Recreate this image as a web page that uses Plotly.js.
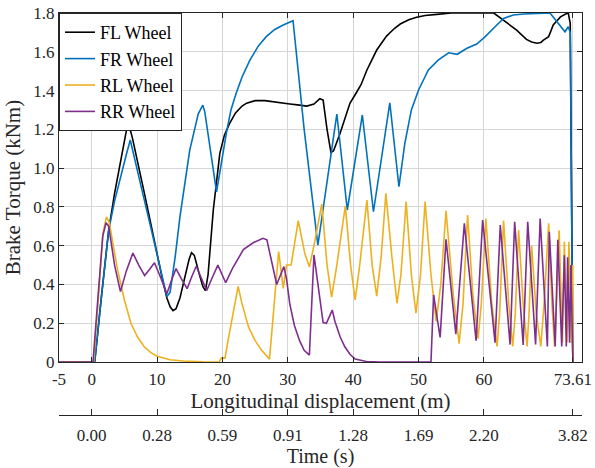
<!DOCTYPE html>
<html>
<head>
<meta charset="utf-8">
<script src="https://cdn.plot.ly/plotly-3.0.1.min.js"></script>
<style>html,body{margin:0;padding:0;background:#fff;}#chart{width:595px;height:468px;}</style>
</head>
<body>
<div id="chart"></div>
<script>
// Longitudinal displacement (m) and brake torque (kNm)
const flX = [-5,0.46,1.5,2.6,3.5,4.5,5.2,5.56,6.2,7.0,8.0,9.0,10.0,10.8,11.5,12.0,12.45,12.9,13.5,14.3,14.9,15.27,15.7,16.4,17.0,17.4,17.8,18.6,19.6,20.3,21.1,22.0,23.0,23.7,25.0,26.5,28.0,30.3,31.5,32.9,34.0,34.9,35.4,36.0,36.6,37.0,38.0,39.5,40.5,41.2,42.1,43.6,45.1,46.3,47.2,48.5,49.7,51.0,52.8,55.0,61.5,63.0,65.0,66.5,67.3,68.1,68.7,69.1,69.9,70.6,71.7,72.5,72.9,73.2,73.6];
const flY = [0,0,0.34,0.68,0.87,1.05,1.17,1.239,1.16,1.04,0.88,0.72,0.55,0.43,0.33,0.285,0.265,0.275,0.33,0.44,0.53,0.564,0.55,0.46,0.39,0.368,0.45,0.784,1.076,1.17,1.231,1.285,1.32,1.335,1.348,1.348,1.34,1.331,1.326,1.32,1.33,1.358,1.351,1.2,1.08,1.09,1.18,1.334,1.39,1.43,1.506,1.609,1.681,1.72,1.743,1.765,1.778,1.787,1.793,1.8,1.8,1.764,1.712,1.664,1.65,1.644,1.648,1.66,1.678,1.738,1.78,1.795,1.8,1.747,0];

const frX = [-5,0.46,1.5,2.6,3.5,4.5,5.3,5.9,6.3,7.7,9.0,10.0,10.8,11.5,12.0,12.8,13.5,15.0,16.3,17.0,17.3,19.1,20.6,21.3,22.1,23.0,24.2,25.5,26.7,28.0,29.3,30.8,32.5,34.6,37.5,39.1,41.4,43.1,45.6,47.0,47.9,48.9,50.0,51.5,53.0,54.6,55.9,57.4,58.9,60.2,61.7,63.0,64.5,66.1,70.1,71.4,72.4,72.9,73.2,73.6];
const frY = [0,0,0.34,0.68,0.83,0.97,1.07,1.145,1.09,0.885,0.7,0.56,0.44,0.337,0.36,0.55,0.749,1.093,1.28,1.325,1.29,0.878,1.18,1.3,1.386,1.47,1.557,1.63,1.678,1.715,1.738,1.76,1.2,0.603,1.279,0.784,1.274,0.775,1.337,0.904,1.128,1.3,1.403,1.506,1.557,1.595,1.587,1.618,1.64,1.678,1.729,1.772,1.79,1.795,1.8,1.747,1.703,1.729,1.7,0];

const rlX = [-5,0.3,1.0,1.7,2.25,2.7,3.3,4.0,5.0,6.0,7.0,8.0,9.0,10.0,12.0,14.0,17.0,19.5,19.8,20.4,20.8,22.4,23.0,24.0,25.0,26.0,27.2,28.6,29.3,29.8,30.5,31.6,32.6,33.3,34.0,35.2,36.0,36.7,37.5,38.8,39.6,40.3,41.0,42.1,42.9,43.6,44.3,45.0,45.9,46.7,47.3,48.1,48.9,49.6,50.3,51.0,51.9,52.7,53.4,54.2,55.3,56.2,56.8,57.5,58.3,59.1,59.6,60.3,61.2,62.0,62.4,63.0,63.8,64.4,64.8,65.3,66.0,66.6,66.9,67.3,68.0,68.7,69.2,69.9,70.4,70.8,71.1,71.5,72.0,72.3,72.7,73.0,73.4,73.6,73.61];
const rlY = [0,0,0.32,0.66,0.749,0.72,0.6,0.47,0.32,0.2,0.13,0.08,0.05,0.03,0.012,0.005,0.001,0,0.02,0.02,0.1,0.39,0.3,0.18,0.11,0.06,0.015,0.57,0.38,0.5,0.5,0.729,0.56,0.49,0.6,0.815,0.5,0.335,0.5,0.805,0.5,0.32,0.5,0.835,0.5,0.34,0.55,0.87,0.55,0.303,0.45,0.827,0.45,0.252,0.45,0.827,0.45,0.21,0.4,0.78,0.35,0.095,0.3,0.758,0.35,0.12,0.3,0.74,0.3,0.08,0.25,0.73,0.3,0.08,0.25,0.68,0.3,0.08,0.25,0.6,0.25,0.08,0.3,0.715,0.3,0.08,0.3,0.68,0.1,0.62,0.1,0.62,0.1,0.5,0];

const rrX = [-5,0.2,1.0,1.7,2.2,2.6,3.5,4.4,5.3,6.3,7.2,8.1,8.9,9.6,10.5,11.5,12.3,12.9,13.7,14.6,15.3,16.0,16.8,17.6,18.5,19.3,20.5,21.5,23.2,24.7,26.2,26.8,28.3,29.4,29.8,30.3,31.0,31.8,32.5,33.3,34.0,35.4,35.9,36.8,37.2,38.0,38.7,39.5,40.3,42.0,44.0,51.9,52.3,53.3,54.2,55.7,57.0,58.8,59.8,61.7,62.5,64.0,64.7,66.0,66.7,67.9,68.6,69.7,70.0,70.9,71.3,71.9,72.3,72.6,72.8,73.1,73.3,73.55,73.61];
const rrY = [0,0,0.35,0.65,0.718,0.7,0.5,0.363,0.47,0.562,0.5,0.446,0.48,0.512,0.44,0.352,0.43,0.482,0.43,0.378,0.44,0.494,0.43,0.369,0.44,0.5,0.409,0.48,0.58,0.615,0.638,0.63,0.4,0.492,0.43,0.3,0.19,0.11,0.06,0.036,0.552,0.203,0.2,0.268,0.21,0.13,0.08,0.04,0.015,0.003,0,0,0.346,0.127,0.633,0.144,0.715,0.11,0.732,0.1,0.706,0.09,0.723,0.088,0.723,0.09,0.74,0.08,0.672,0.08,0.63,0.08,0.55,0.08,0.54,0.1,0.5,0.03,0];

const seriesNames = ['FL Wheel','FR Wheel','RL Wheel','RR Wheel'];
const seriesColors = ['#000000','#0072BD','#EDB120','#7E2F8E'];

// Axis ticks
const distTicks = [-5,0,10,20,30,40,50,60,73.61];
const distTickText = ['-5','0','10','20','30','40','50','60','73.61'];
const timeTicks = [-5,0,10,20,30,40,50,60,73.61,75];
const timeTickText = ['','0.00','0.28','0.59','0.91','1.28','1.69','2.20','3.82',''];
const torqueTicks = [0,0.2,0.4,0.6,0.8,1.0,1.2,1.4,1.6,1.8];
const torqueTickText = ['0','0.2','0.4','0.6','0.8','1.0','1.2','1.4','1.6','1.8'];

const xs = [flX, frX, rlX, rrX];
const ys = [flY, frY, rlY, rrY];
const traces = seriesNames.map((n, i) => ({
  x: xs[i], y: ys[i], name: n, type: 'scatter', mode: 'lines',
  line: {color: seriesColors[i], width: 1.6},
  xaxis: 'x', yaxis: 'y'
}));
traces.push({x: [-5, 75], y: [null, null], xaxis: 'x2', yaxis: 'y', type: 'scatter', mode: 'lines', showlegend: false, hoverinfo: 'skip'});

const FONT = 'Liberation Serif, Times New Roman, serif';
const axisCommon = {
  showline: true, linecolor: '#262626', linewidth: 1,
  ticks: 'inside', ticklen: 5, tickcolor: '#262626', tickwidth: 1,
  tickfont: {family: FONT, size: 17, color: '#262626'},
  zeroline: false, automargin: false
};

const layout = {
  width: 595, height: 468,
  margin: {l: 59, r: 13, t: 13, b: 53},
  paper_bgcolor: '#ffffff', plot_bgcolor: '#ffffff',
  font: {family: FONT, color: '#262626'},
  showlegend: true,
  legend: {x: 0, y: 1, xanchor: 'left', yanchor: 'top', bgcolor: '#ffffff',
    bordercolor: '#262626', borderwidth: 1, font: {family: FONT, size: 18, color: '#000'},
    tracegroupgap: 0, itemwidth: 30},
  xaxis: Object.assign({}, axisCommon, {
    range: [-5, 75], domain: [0, 1], anchor: 'y', mirror: 'ticks',
    tickmode: 'array', tickvals: distTicks, ticktext: distTickText,
    showgrid: true, gridcolor: '#d6d6d6', gridwidth: 1,
    ticklabelstandoff: 2,
    title: {text: 'Longitudinal displacement (m)', font: {family: FONT, size: 21, color: '#262626'}, standoff: 0}
  }),
  xaxis2: Object.assign({}, axisCommon, {
    range: [-5, 75], overlaying: 'x', anchor: 'free', position: 0, side: 'bottom',
    tickmode: 'array', tickvals: timeTicks, ticktext: timeTickText, ticklen: 6,
    showgrid: false, ticklabelstandoff: 5,
    title: {text: 'Time (s)', font: {family: FONT, size: 20, color: '#262626'}, standoff: 7}
  }),
  yaxis: Object.assign({}, axisCommon, {
    range: [0, 1.8], domain: [0.1318, 1], anchor: 'x', mirror: 'ticks',
    tickmode: 'array', tickvals: torqueTicks, ticktext: torqueTickText,
    showgrid: true, gridcolor: '#d6d6d6', gridwidth: 1,
    title: {text: 'Brake Torque (kNm)', font: {family: FONT, size: 21, color: '#262626'}, standoff: 6}
  })
};

Plotly.newPlot('chart', traces, layout, {staticPlot: true, displayModeBar: false});
</script>
</body>
</html>
